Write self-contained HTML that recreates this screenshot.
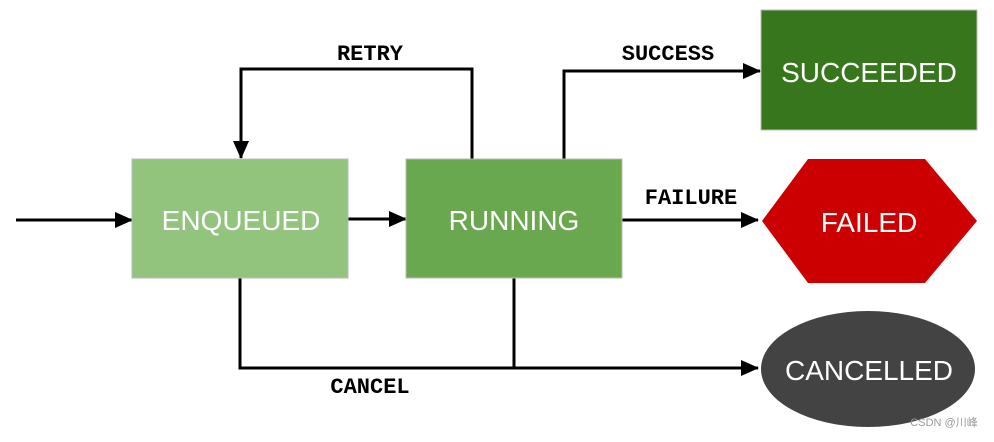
<!DOCTYPE html>
<html><head><meta charset="utf-8"><style>
html,body{margin:0;padding:0;background:#fff;}
</style></head><body>
<svg width="994" height="437" viewBox="0 0 994 437" xmlns="http://www.w3.org/2000/svg">
<defs>
<marker id="b" markerWidth="18" markerHeight="16" refX="17" refY="8" orient="auto" markerUnits="userSpaceOnUse"><path d="M0,0 L18,8 L0,16 z" fill="#000"/></marker></defs>
<g stroke="#000" stroke-width="3" fill="none">
<line x1="16" y1="220" x2="132" y2="220" marker-end="url(#b)"/>
<line x1="348" y1="219" x2="406" y2="219" marker-end="url(#b)"/>
<polyline points="472,159 472,69 241,69 241,158" marker-end="url(#b)"/>
<polyline points="564,159 564,71 760,71" marker-end="url(#b)"/>
<line x1="622" y1="220" x2="758" y2="220" marker-end="url(#b)"/>
<polyline points="240,278 240,368 758,368" marker-end="url(#b)"/>
<line x1="514" y1="278" x2="514" y2="368"/>
</g>
<rect x="132" y="159" width="216" height="119" fill="#93c47d" stroke="#bbb" stroke-width="1"/>
<rect x="406" y="159" width="216" height="119" fill="#6aa84f" stroke="#bbb" stroke-width="1"/>
<rect x="761" y="10" width="216" height="120" fill="#38761d" stroke="#bbb" stroke-width="1"/>
<polygon points="808,159 925,159 977,221 925,283 808,283 762,221" fill="#cc0000"/>
<ellipse cx="868" cy="369" rx="107" ry="58" fill="#434343"/>
<g font-family="Liberation Sans, sans-serif" font-size="28" fill="#fff" text-anchor="middle">
<text x="241" y="230">ENQUEUED</text>
<text x="514" y="230">RUNNING</text>
<text x="869" y="82">SUCCEEDED</text>
<text x="869" y="232">FAILED</text>
<text x="869" y="380">CANCELLED</text>
</g>
<g font-family="Liberation Mono, monospace" font-weight="bold" font-size="22" fill="#000" text-anchor="middle">
<text x="370" y="60">RETRY</text>
<text x="668" y="60">SUCCESS</text>
<text x="691" y="204">FAILURE</text>
<text x="370" y="393">CANCEL</text>
</g>
<text x="944" y="426" font-family="Liberation Sans, Noto Sans CJK SC, sans-serif" font-size="11" fill="#999" text-anchor="middle">CSDN @川峰</text>
</svg>
</body></html>
